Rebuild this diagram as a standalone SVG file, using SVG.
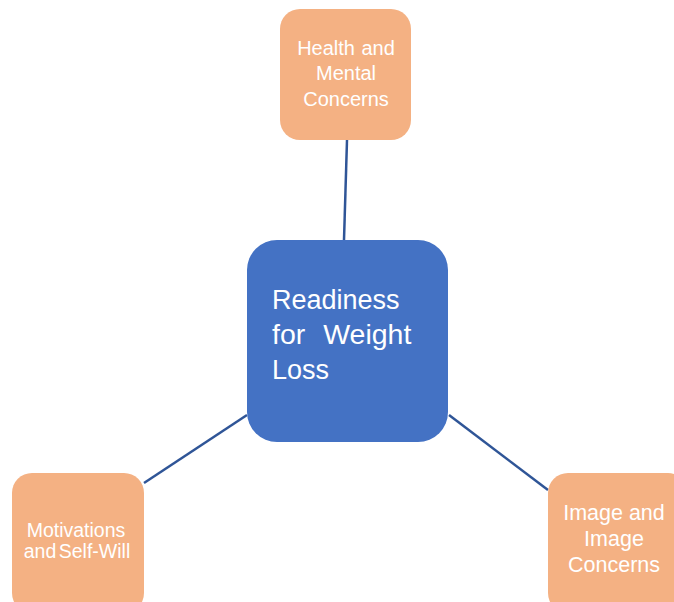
<svg xmlns="http://www.w3.org/2000/svg" width="674" height="602" viewBox="0 0 674 602">
  <style>
    .leaf { fill: #F4B183; }
    .core { fill: #4472C4; }
    .link { stroke: #2F5597; stroke-width: 2.5; fill: none; }
    text { fill: #FFFFFF; font-family: "Liberation Sans", Arial, sans-serif; }
    .lbl { text-anchor: middle; }
  </style>
  <rect width="674" height="602" fill="#FFFFFF"/>
  <g id="connectors">
    <line class="link" x1="347" y1="140" x2="344" y2="240"/>
    <line class="link" x1="144" y1="483" x2="247" y2="415"/>
    <line class="link" x1="449" y1="415" x2="548" y2="490"/>
  </g>
  <g id="health">
    <rect class="leaf" x="280" y="9" width="131" height="131" rx="20"/>
    <text class="lbl" font-size="20"><tspan x="346" y="55" word-spacing="1">Health and</tspan><tspan x="346" y="80">Mental</tspan><tspan x="346" y="106">Concerns</tspan></text>
  </g>
  <g id="readiness">
    <rect class="core" x="247" y="240" width="201" height="202" rx="30"/>
    <text font-size="27"><tspan x="272" y="309">Readiness</tspan><tspan x="272" y="344" font-size="28.5" word-spacing="10">for Weight</tspan><tspan x="272" y="379">Loss</tspan></text>
  </g>
  <g id="motivations">
    <rect class="leaf" x="12" y="473" width="132" height="140" rx="20"/>
    <text class="lbl" font-size="19.5"><tspan x="76" y="537">Motivations</tspan><tspan x="77" y="558" word-spacing="-3">and Self-Will</tspan></text>
  </g>
  <g id="image">
    <rect class="leaf" x="548" y="473" width="140" height="140" rx="20"/>
    <text class="lbl" font-size="21.5"><tspan x="614" y="520">Image and</tspan><tspan x="614" y="546">Image</tspan><tspan x="614" y="572">Concerns</tspan></text>
  </g>
</svg>
